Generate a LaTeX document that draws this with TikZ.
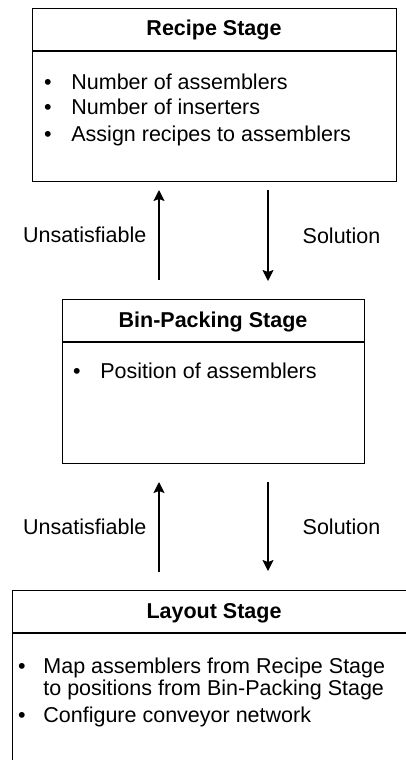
\documentclass[tikz,border=0pt]{standalone}
\usepackage{fontspec}
\setmainfont{Liberation Sans}
\usetikzlibrary{arrows.meta,positioning}
\tikzset{
  stagebox/.style={draw, line width=0.7pt, anchor=north west, inner sep=0pt},
  stagetitle/.style={anchor=base, inner sep=0pt, font=\bfseries\fontsize{10.75}{13}\selectfont},
  stageitem/.style={anchor=base west, inner sep=0pt, font=\fontsize{10.75}{13}\selectfont},
  stagedot/.style={anchor=base, inner sep=0pt, font=\fontsize{10.75}{13}\selectfont},
  flowlabel/.style={inner sep=0pt, font=\fontsize{10.75}{13}\selectfont},
  flow/.style={line width=0.7pt, -{Stealth[width=5.5pt,length=5.5pt,inset=1pt]}},
}
\begin{document}
\begin{tikzpicture}[x=0.5pt,y=-0.5pt]
    \useasboundingbox (0,0) rectangle (406,760);
    \clip (0,0) rectangle (406,760);
    % Recipe Stage
    \node[stagebox, minimum width=182pt, minimum height=86.5pt] (recipe) at (32,8) {};
    \draw[line width=0.7pt] (32,51) -- (396,51); %en-tete
    \node[stagetitle] (recipetitle) at (214,35) {Recipe Stage};
    \node[stagedot] (rdot1) at (48,89) {•};
    \node[stageitem] (ritem1) at (71,89) {Number of assemblers};
    \node[stagedot] (rdot2) at (48,114.5) {•};
    \node[stageitem] (ritem2) at (71,114.5) {Number of inserters};
    \node[stagedot] (rdot3) at (48,141) {•};
    \node[stageitem] (ritem3) at (71,141) {Assign recipes to assemblers};
    % Bin-Packing Stage
    \node[stagebox, minimum width=151pt, minimum height=82pt] (binpack) at (62,299) {};
    \draw[line width=0.7pt] (62,342) -- (364,342); %en-tete
    \node[stagetitle] (binpacktitle) at (213,327.5) {Bin-Packing Stage};
    \node[stagedot] (bdot1) at (77,378.5) {•};
    \node[stageitem] (bitem1) at (100,378.5) {Position of assemblers};
    % Layout Stage (coupe a droite et en bas)
    \node[stagebox, minimum width=202pt, minimum height=110pt] (layout) at (12,590) {};
    \draw[line width=0.7pt] (12,633) -- (416,633); %en-tete
    \node[stagetitle] (layouttitle) at (214,618) {Layout Stage};
    \node[stagedot] (ldot1) at (22,673.5) {•};
    \node[stageitem] (litem1) at (43,673.5) {Map assemblers from Recipe Stage};
    \node[stageitem] (litem2) at (43,695) {to positions from Bin-Packing Stage};
    \node[stagedot] (ldot2) at (22,722) {•};
    \node[stageitem] (litem3) at (43,722) {Configure conveyor network};
    % fleches entre les etapes
    \coordinate (up1s) at (159,280);
    \coordinate (up1e) at (159,190);
    \coordinate (dn1s) at (268,190);
    \coordinate (dn1e) at (268,281);
    \coordinate (up2s) at (159,572);
    \coordinate (up2e) at (159,482);
    \coordinate (dn2s) at (268,482);
    \coordinate (dn2e) at (268,571);
    \draw[flow] (up1s) -- node[flowlabel, left=6pt] (unsat1) {Unsatisfiable} (up1e);
    \draw[flow] (dn1s) -- node[flowlabel, right=17pt] (sol1) {Solution} (dn1e);
    \draw[flow] (up2s) -- node[flowlabel, left=6pt] (unsat2) {Unsatisfiable} (up2e);
    \draw[flow] (dn2s) -- node[flowlabel, right=17pt] (sol2) {Solution} (dn2e);
\end{tikzpicture}
\end{document}
